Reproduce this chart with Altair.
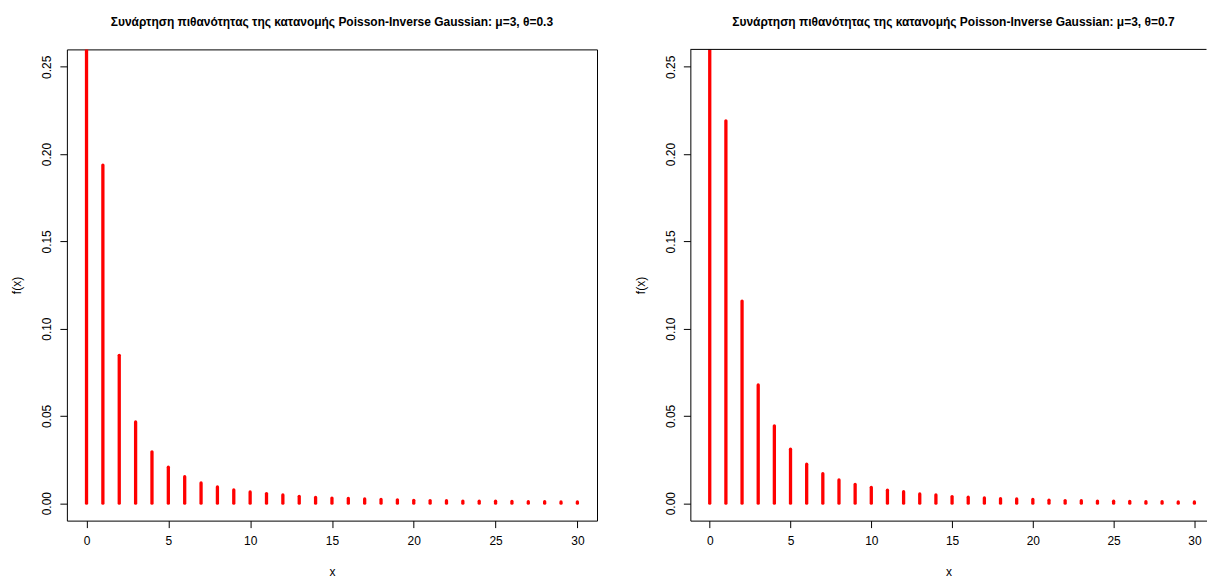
import altair as alt
import pandas as pd

# Support points of the pmf
x_vals = list(range(31))

# Poisson-Inverse Gaussian probabilities, mu = 3, theta = 0.3
pmf_theta03 = [0.4600, 0.1937, 0.0847, 0.0465, 0.0294, 0.0206, 0.0152, 0.0116,
               0.0093, 0.0076, 0.0064, 0.0055, 0.0047, 0.0039, 0.0033, 0.0029,
               0.0027, 0.0024, 0.0021, 0.0019, 0.0016, 0.0015, 0.0014, 0.0012,
               0.0011, 0.0011, 0.0010, 0.0008, 0.0008, 0.0007, 0.0007]

# Poisson-Inverse Gaussian probabilities, mu = 3, theta = 0.7
pmf_theta07 = [0.3900, 0.2191, 0.1158, 0.0677, 0.0443, 0.0309, 0.0223, 0.0169,
               0.0133, 0.0107, 0.0091, 0.0074, 0.0066, 0.0053, 0.0047, 0.0038,
               0.0034, 0.0030, 0.0026, 0.0024, 0.0021, 0.0017, 0.0015, 0.0014,
               0.0012, 0.0011, 0.0010, 0.0008, 0.0008, 0.0007, 0.0007]

titles = [
    "Συνάρτηση πιθανότητας της κατανομής Poisson-Inverse Gaussian: μ=3, θ=0.3",
    "Συνάρτηση πιθανότητας της κατανομής Poisson-Inverse Gaussian: μ=3, θ=0.7",
]

x_ticks = [0, 5, 10, 15, 20, 25, 30]
y_ticks = [0.0, 0.05, 0.10, 0.15, 0.20, 0.25]

FONT = "Liberation Sans"
HEIGHT = 472


def panel(values, title, width, x_max, boxed, title_dx=0):
    df = pd.DataFrame({"x": x_vals, "p": values})
    x_enc = alt.X(
        "x:Q",
        scale=alt.Scale(domain=[-1.2, x_max], nice=False, zero=False),
        axis=alt.Axis(values=x_ticks, title="x", grid=False, domain=not boxed,
                      domainColor="black", tickSize=7, tickColor="black",
                      labelPadding=8, labelFontSize=12, labelColor="black",
                      titleFontSize=12, titleFontWeight="normal",
                      titleColor="black", titlePadding=20, labelFlush=False),
    )
    y_enc = alt.Y(
        "p:Q",
        scale=alt.Scale(domain=[-0.01, 0.26], nice=False, zero=False),
        axis=alt.Axis(values=y_ticks, format=".2f", title="f(x)", grid=False,
                      domain=not boxed, domainColor="black", tickSize=7,
                      tickColor="black", labelAngle=270, labelPadding=6,
                      labelFontSize=12, labelColor="black", titleFontSize=12,
                      titleFontWeight="normal", titleColor="black",
                      titlePadding=17, labelFlush=False),
    )
    stems = alt.Chart(df).mark_rule(
        color="#FF0000", strokeWidth=3.3, strokeCap="round", clip=True
    ).encode(x=x_enc, y=y_enc, y2=alt.datum(0))

    layers = [stems]
    if not boxed:
        # top edge of the frame; left and bottom edges come from the axis lines
        top_edge = alt.Chart(pd.DataFrame({"k": [0]})).mark_rule(
            color="black", strokeWidth=1
        ).encode(x=alt.value(0), x2=alt.value(width), y=alt.value(0))
        layers.append(top_edge)

    view = (alt.ViewBackground(stroke="black", strokeWidth=1) if boxed
            else alt.ViewBackground(stroke="transparent"))
    return alt.layer(*layers).properties(
        width=width,
        height=HEIGHT,
        view=view,
        title=alt.TitleParams(text=title, fontSize=12, fontWeight="bold",
                              font=FONT, color="black", anchor="middle",
                              offset=20, dx=title_dx),
    )


left = panel(pmf_theta03, titles[0], 531, 31.2, boxed=True)
right = panel(pmf_theta07, titles[1], 517, 30.75, boxed=False, title_dx=5)

chart = alt.hconcat(left, right, spacing=93.5, bounds="flush").properties(
    padding={"left": 10, "top": 15, "right": 0, "bottom": 0},
    background="white",
).configure_axis(labelFont=FONT, titleFont=FONT).configure_title(font=FONT)

chart.save("out.html", embed_options={"renderer": "svg", "actions": False})
